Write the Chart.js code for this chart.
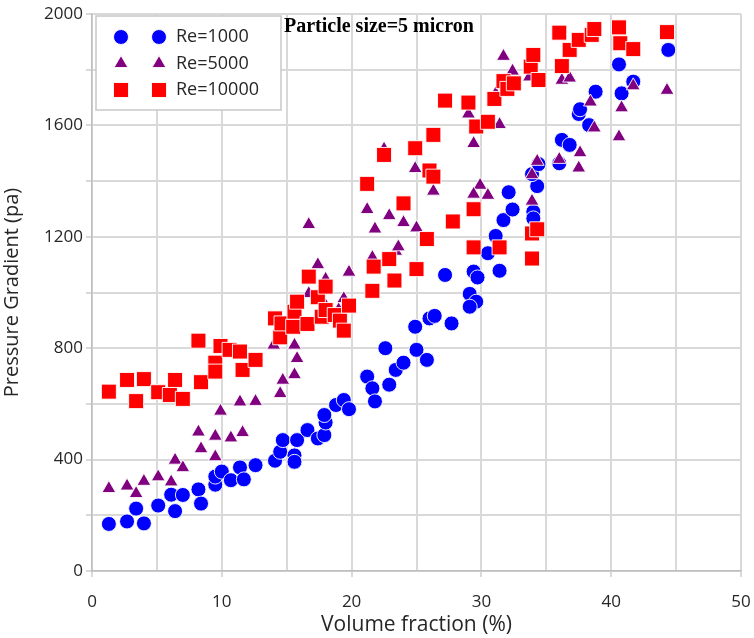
<!DOCTYPE html>
<html>
<head>
<meta charset="utf-8">
<script src="https://cdn.jsdelivr.net/npm/chart.js@4/dist/chart.umd.min.js"></script>
<style>
  body { margin: 0; background: #fff; }
  #wrap { position: relative; width: 754px; height: 638px; }
</style>
</head>
<body>
<div id="wrap"><canvas id="chartPressure" width="754" height="638"></canvas></div>
<script>
// series labels and chart texts
const seriesLabels = ['Re=1000', 'Re=5000', 'Re=10000'];
const chartTitle = 'Particle size=5 micron';
const xTitle = 'Volume fraction (%)';
const yTitle = 'Pressure Gradient (pa)';

// Re=1000 (blue circles)
const re1000X = [1.3, 2.7, 3.4, 4.0, 5.1, 6.1, 6.4, 7.0, 8.2, 8.4, 9.5, 9.5, 10.0, 10.7, 11.4, 11.7, 12.6, 14.1, 14.5, 14.7,
  15.6, 15.6, 15.8, 16.6, 17.4, 17.9, 18.0, 17.9, 18.8, 19.4, 19.8, 21.2, 21.6, 21.8, 22.6, 22.9, 23.4, 24.0, 25.0, 25.8,
  24.9, 26.0, 26.4, 27.7, 27.2, 29.1, 29.6, 29.1, 29.4, 29.7, 31.4, 30.5, 31.1, 31.7, 32.4, 32.1, 34.0, 34.0, 34.3, 33.9,
  34.4, 36.0, 36.2, 36.8, 38.3, 37.5, 37.6, 38.8, 40.8, 41.7, 40.6, 44.4];
const re1000Y = [169, 178, 224, 171, 235, 274, 215, 273, 293, 242, 310, 339, 357, 326, 372, 329, 380, 396, 428, 470,
  415, 392, 470, 506, 476, 488, 533, 560, 596, 614, 581, 698, 656, 609, 800, 669, 722, 748, 794, 758,
  877, 907, 916, 889, 1063, 995, 967, 949, 1075, 1054, 1078, 1141, 1203, 1260, 1298, 1360, 1290, 1266, 1382, 1425,
  1461, 1464, 1548, 1530, 1601, 1641, 1658, 1721, 1715, 1757, 1819, 1871];

// Re=5000 (purple triangles)
const re5000X = [1.3, 2.7, 3.4, 4.0, 5.1, 6.1, 6.4, 7.0, 8.2, 8.4, 9.5, 9.5, 9.9, 10.7, 11.6, 11.4, 12.6, 14.0, 14.5, 14.7,
  15.6, 15.8, 15.6, 16.7, 16.7, 17.4, 18.0, 18.0, 19.0, 19.4, 19.8, 21.2, 21.6, 21.8, 22.9, 22.5, 23.4, 23.6, 24.0, 25.0,
  24.9, 26.3, 29.0, 29.4, 29.9, 29.4, 30.5, 31.1, 31.4, 31.7, 32.4, 33.7, 33.9, 33.9, 34.3, 36.0, 36.2, 36.8, 37.6, 37.5,
  38.4, 38.7, 40.6, 40.8, 41.7, 44.3];
const re5000Y = [296, 305, 278, 322, 338, 320, 398, 371, 499, 439, 484, 410, 574, 478, 497, 607, 609, 811, 637, 685,
  705, 763, 811, 996, 1244, 1100, 1048, 953, 938, 978, 1073, 1298, 1126, 1228, 1276, 1515, 1148, 1164, 1251, 1232,
  1445, 1364, 1641, 1535, 1385, 1353, 1349, 1714, 1603, 1848, 1795, 1774, 1423, 1328, 1471, 1478, 1762, 1770, 1502, 1447,
  1684, 1591, 1559, 1663, 1742, 1726];

// Re=10000 (red squares)
const re10000X = [1.3, 2.7, 3.4, 4.0, 5.1, 6.0, 6.4, 7.0, 8.2, 8.4, 9.5, 9.5, 9.9, 10.6, 11.4, 11.6, 12.6, 14.1, 14.5, 14.6,
  15.5, 15.6, 15.8, 16.6, 16.7, 17.4, 17.7, 18.0, 18.0, 18.7, 19.1, 19.4, 19.8, 21.2, 21.6, 21.7, 22.5, 22.9, 23.3, 24.0,
  24.9, 25.0, 25.8, 26.0, 26.3, 26.3, 27.2, 27.8, 29.0, 29.4, 29.4, 29.6, 30.5, 31.0, 31.4, 31.7, 32.0, 32.5, 33.8, 34.0,
  34.4, 33.9, 34.3, 33.9, 36.0, 36.2, 36.8, 37.5, 38.5, 38.7, 40.6, 40.7, 41.7, 44.3];
const re10000Y = [644, 686, 610, 689, 642, 632, 686, 618, 827, 678, 748, 716, 808, 794, 788, 722, 758, 907, 839, 889,
  877, 931, 967, 887, 1057, 983, 913, 1021, 937, 919, 899, 863, 953, 1390, 1006, 1093, 1494, 1120, 1043, 1320,
  1518, 1084, 1192, 1438, 1416, 1566, 1689, 1255, 1682, 1299, 1162, 1596, 1613, 1695, 1162, 1759, 1731, 1751, 1811, 1853,
  1763, 1212, 1227, 1122, 1933, 1813, 1871, 1907, 1925, 1946, 1952, 1895, 1874, 1935];

const seriesColors = ['#0000ff', '#800080', '#ff0000'];
const seriesStyles = ['circle', 'triangle', 'rect'];
const seriesRadius = [7.5, 8, 10.6];

const gridColor = '#d9d9d9';
const textColor = '#262626';

function toPoints(xs, ys) {
  return xs.map((x, i) => ({ x: x, y: ys[i] }));
}

function drawMarker(ctx, style, x, y, r, color) {
  ctx.save();
  ctx.fillStyle = color;
  ctx.strokeStyle = 'rgba(255,255,255,0.9)';
  ctx.lineWidth = 1;
  ctx.beginPath();
  if (style === 'circle') {
    ctx.arc(x, y, r, 0, Math.PI * 2);
  } else if (style === 'triangle') {
    ctx.moveTo(x, y - r);
    ctx.lineTo(x + r * Math.sin(Math.PI * 2 / 3), y + r / 2);
    ctx.lineTo(x - r * Math.sin(Math.PI * 2 / 3), y + r / 2);
    ctx.closePath();
  } else {
    let s = r * Math.SQRT1_2;
    ctx.rect(x - s, y - s, 2 * s, 2 * s);
  }
  ctx.fill();
  ctx.stroke();
  ctx.restore();
}

// legend box with two markers per entry + title inside the plot
const insideLegend = {
  id: 'insideLegend',
  afterDraw(chart) {
    const ctx = chart.ctx;
    const area = chart.chartArea;
    const bx = area.left + 4, by = area.top + 2, bw = 185, bh = 94;
    ctx.save();
    ctx.fillStyle = '#fff';
    ctx.strokeStyle = '#c8c8c8';
    ctx.lineWidth = 1.5;
    ctx.fillRect(bx, by, bw, bh);
    ctx.strokeRect(bx, by, bw, bh);
    ctx.font = '18px "Open Sans"';
    ctx.fillStyle = textColor;
    ctx.textBaseline = 'middle';
    seriesLabels.forEach((label, i) => {
      let y = by + 21 + i * 26.5;
      drawMarker(ctx, seriesStyles[i], bx + 25, y, seriesRadius[i], seriesColors[i]);
      drawMarker(ctx, seriesStyles[i], bx + 63, y, seriesRadius[i], seriesColors[i]);
      ctx.fillText(label, bx + 80, y);
    });
    ctx.font = 'bold 20px "Liberation Serif"';
    ctx.fillStyle = '#000';
    ctx.textBaseline = 'alphabetic';
    ctx.textAlign = 'left';
    ctx.fillText(chartTitle, 284, area.top + 18);
    ctx.restore();
  }
};

Chart.defaults.font.family = '"Open Sans"';
Chart.defaults.color = textColor;

let contextPressure = document.querySelector('#chartPressure').getContext('2d');

let config = {
  type: 'scatter',
  data: {
    datasets: [
      {
        label: seriesLabels[0],
        data: toPoints(re1000X, re1000Y),
        pointStyle: seriesStyles[0],
        pointRadius: seriesRadius[0],
        backgroundColor: seriesColors[0],
        borderColor: 'rgba(255,255,255,0.9)',
        borderWidth: 1,
        order: 3
      },
      {
        label: seriesLabels[1],
        data: toPoints(re5000X, re5000Y),
        pointStyle: seriesStyles[1],
        pointRadius: seriesRadius[1],
        backgroundColor: seriesColors[1],
        borderColor: 'rgba(255,255,255,0.9)',
        borderWidth: 1,
        order: 2
      },
      {
        label: seriesLabels[2],
        data: toPoints(re10000X, re10000Y),
        pointStyle: seriesStyles[2],
        pointRadius: seriesRadius[2],
        backgroundColor: seriesColors[2],
        borderColor: 'rgba(255,255,255,0.9)',
        borderWidth: 1,
        order: 1
      }
    ]
  },
  options: {
    responsive: false,
    animation: false,
    layout: { padding: { top: 14, right: 0, left: 0, bottom: 0 } },
    plugins: {
      legend: { display: false },
      tooltip: { enabled: false }
    },
    scales: {
      x: {
        type: 'linear',
        min: 0,
        max: 50,
        afterFit: s => { s.height = 67; s.paddingRight = 13; s.paddingLeft = 0; },
        ticks: {
          stepSize: 5,
          autoSkip: false,
          maxRotation: 0,
          padding: 15,
          font: { size: 17 },
          color: textColor,
          callback: v => (v % 10 === 0 ? v : '')
        },
        grid: {
          color: gridColor,
          lineWidth: 2,
          tickLength: 6,
          tickColor: c => (c.tick && c.tick.value % 10 === 0 ? gridColor : 'rgba(0,0,0,0)')
        },
        border: { color: '#bfbfbf', width: 1.5 },
        title: {
          display: true,
          text: xTitle,
          font: { size: 21 },
          color: textColor,
          padding: { top: 0, bottom: 0 }
        }
      },
      y: {
        min: 0,
        max: 2000,
        afterFit: s => { s.width = 92; },
        ticks: {
          stepSize: 200,
          autoSkip: false,
          padding: 3,
          font: { size: 17 },
          color: textColor,
          callback: v => (v % 400 === 0 ? v : '')
        },
        grid: {
          color: gridColor,
          lineWidth: 2,
          tickLength: 6
        },
        border: { color: '#bfbfbf', width: 1.5 },
        title: {
          display: true,
          text: yTitle,
          font: { size: 20 },
          color: textColor,
          padding: { top: 0, bottom: 0 }
        }
      }
    }
  },
  plugins: [insideLegend]
};

let chartPressure = new Chart(contextPressure, config);
</script>
</body>
</html>
